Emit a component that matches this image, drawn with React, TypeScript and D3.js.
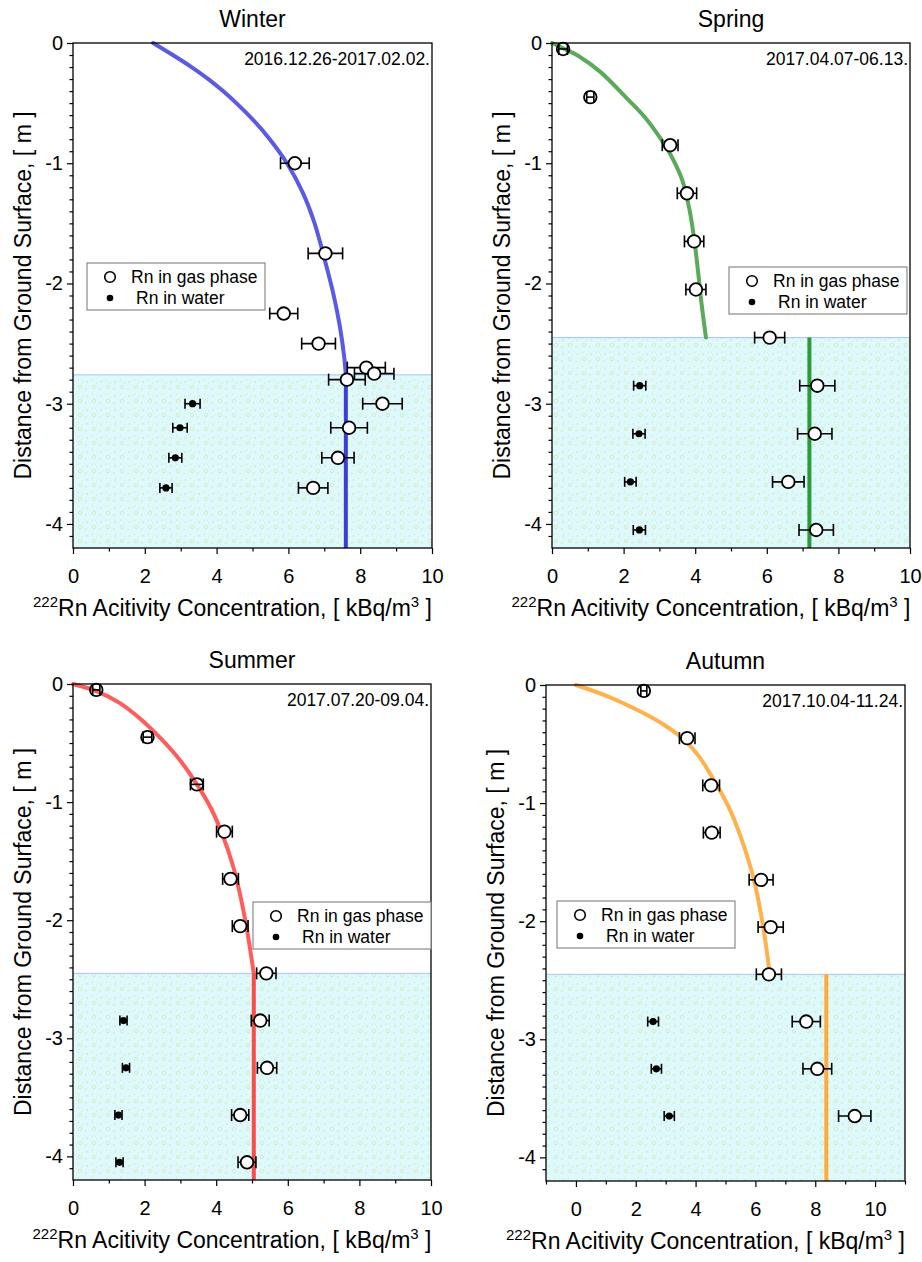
import React, { useEffect, useRef } from 'react';
import * as d3 from 'd3';

// [concentration kBq/m3, depth m, error]
type Pt = [number, number, number];

const seasons = ['Winter', 'Spring', 'Summer', 'Autumn'];
const dateRanges = ['2016.12.26-2017.02.02.', '2017.04.07-06.13.', '2017.07.20-09.04.', '2017.10.04-11.24.'];
const waterTables = [-2.76, -2.45, -2.45, -2.45];
const xDomains: [number, number][] = [[0, 10], [0, 10], [0, 10], [-1, 11]];
const yDomain: [number, number] = [-4.2, 0];
const xMajorTicks = [[0, 2, 4, 6, 8, 10], [0, 2, 4, 6, 8, 10], [0, 2, 4, 6, 8, 10], [0, 2, 4, 6, 8, 10]];
const yMajorTicks = [0, -1, -2, -3, -4];

const winterGas: Pt[] = [[6.18, -1.0, 0.4], [7.03, -1.75, 0.48], [5.87, -2.25, 0.39], [6.84, -2.5, 0.47], [8.17, -2.7, 0.53], [8.39, -2.75, 0.55], [7.63, -2.8, 0.51], [8.62, -3.0, 0.55], [7.69, -3.2, 0.51], [7.38, -3.45, 0.45], [6.69, -3.7, 0.41]];
const winterWater: Pt[] = [[3.33, -3.0, 0.21], [2.98, -3.2, 0.2], [2.85, -3.45, 0.18], [2.59, -3.7, 0.17]];
const springGas: Pt[] = [[0.31, -0.05, 0.12], [1.07, -0.45, 0.1], [3.3, -0.85, 0.22], [3.77, -1.25, 0.27], [3.97, -1.65, 0.27], [4.02, -2.05, 0.28], [6.08, -2.45, 0.42], [7.41, -2.85, 0.49], [7.34, -3.25, 0.48], [6.6, -3.65, 0.44], [7.38, -4.05, 0.48]];
const springWater: Pt[] = [[2.45, -2.85, 0.17], [2.43, -3.25, 0.17], [2.19, -3.65, 0.16], [2.44, -4.05, 0.17]];
const summerGas: Pt[] = [[0.65, -0.05, 0.1], [2.08, -0.45, 0.12], [3.46, -0.85, 0.18], [4.23, -1.25, 0.22], [4.4, -1.65, 0.22], [4.67, -2.05, 0.22], [5.4, -2.45, 0.27], [5.23, -2.85, 0.25], [5.42, -3.25, 0.27], [4.67, -3.65, 0.24], [4.86, -4.05, 0.25]];
const summerWater: Pt[] = [[1.41, -2.85, 0.1], [1.48, -3.25, 0.1], [1.27, -3.65, 0.1], [1.3, -4.05, 0.1]];
const autumnGas: Pt[] = [[2.27, -0.05, 0.1], [3.72, -0.45, 0.26], [4.52, -0.85, 0.28], [4.54, -1.25, 0.28], [6.19, -1.65, 0.4], [6.51, -2.05, 0.42], [6.45, -2.45, 0.42], [7.7, -2.85, 0.47], [8.07, -3.25, 0.48], [9.32, -3.65, 0.54]];
const autumnWater: Pt[] = [[2.58, -2.85, 0.18], [2.69, -3.25, 0.17], [3.12, -3.65, 0.17]];

// model curves in the unsaturated zone: [concentration, depth]
const winterCurve: [number, number][] = [[2.23, 0], [2.78, -0.1], [3.3, -0.2], [3.77, -0.3], [4.18, -0.4], [4.55, -0.5], [5.05, -0.65], [5.48, -0.8], [5.96, -1.0], [6.41, -1.25], [6.73, -1.5], [7.01, -1.8], [7.24, -2.07], [7.43, -2.35], [7.55, -2.6], [7.6, -2.76]];
const springCurve: [number, number][] = [[0, 0], [0.35, -0.05], [0.75, -0.11], [1.35, -0.24], [2.09, -0.46], [2.6, -0.62], [3.02, -0.79], [3.35, -0.95], [3.65, -1.15], [3.85, -1.4], [3.98, -1.65], [4.08, -1.9], [4.17, -2.15], [4.3, -2.45]];
const summerCurve: [number, number][] = [[0, 0], [0.65, -0.06], [1.3, -0.16], [1.9, -0.3], [2.45, -0.46], [2.95, -0.63], [3.46, -0.85], [3.85, -1.05], [4.18, -1.28], [4.45, -1.52], [4.68, -1.8], [4.87, -2.1], [5.0, -2.35], [5.05, -2.45]];
const autumnCurve: [number, number][] = [[0, 0], [1.0, -0.09], [2.04, -0.21], [2.9, -0.33], [3.6, -0.46], [4.1, -0.6], [4.6, -0.8], [5.1, -1.03], [5.5, -1.28], [5.95, -1.65], [6.26, -2.05], [6.48, -2.45]];
// saturated zone (constant) value
const waterLevels = [7.6, 7.19, 5.05, 8.37];

const gasSets = [winterGas, springGas, summerGas, autumnGas];
const waterSets = [winterWater, springWater, summerWater, autumnWater];
const curves = [winterCurve, springCurve, summerCurve, autumnCurve];

// layout (pixels)
const frames = [
  { left: 73, top: 43, right: 432, bottom: 548, legend: [87, 263] },
  { left: 552, top: 43, right: 910, bottom: 548, legend: [729, 267] },
  { left: 73, top: 684, right: 431, bottom: 1180, legend: [253, 902] },
  { left: 546, top: 685, right: 905, bottom: 1181, legend: [557, 901] },
];
const curveColors = ['#5a5ae6', '#5aaa5a', '#ff5c5c', '#ffb24c'];
const levelColors = ['#3d3dd8', '#2b9a3c', '#ff4a4a', '#ffaa3c'];

const FONT = 'Liberation Sans, Arial, sans-serif';

function Panel({ i }: { i: number }) {
  const f = frames[i];
  const x = d3.scaleLinear().domain(xDomains[i]).range([f.left, f.right]);
  const y = d3.scaleLinear().domain(yDomain).range([f.bottom, f.top]);
  const xRef = useRef<SVGGElement>(null);
  const yRef = useRef<SVGGElement>(null);

  useEffect(() => {
    const gx = d3.select(xRef.current);
    gx.selectAll('*').remove();
    const minorX = d3.range(Math.ceil(xDomains[i][0]), xDomains[i][1] + 0.01, 1).filter(v => !xMajorTicks[i].includes(v));
    gx.append('g').call(d3.axisBottom(x).tickValues(minorX).tickSize(3.5).tickFormat(() => '') as any);
    gx.append('g').call(d3.axisBottom(x).tickValues(xMajorTicks[i]).tickSize(6).tickPadding(15).tickFormat(d => String(d)) as any);
    gx.selectAll('.domain').remove();
    gx.selectAll('line').attr('stroke', '#000').attr('stroke-width', 1.2);
    gx.selectAll('text').attr('font-size', 20).attr('font-family', FONT).attr('fill', '#000');

    const gy = d3.select(yRef.current);
    gy.selectAll('*').remove();
    const minorY = d3.range(0, 42).map(k => -k / 10).filter(v => Math.abs(v - Math.round(v)) > 0.01);
    gy.append('g').call(d3.axisLeft(y).tickValues(minorY).tickSize(3.5).tickFormat(() => '') as any);
    gy.append('g').call(d3.axisLeft(y).tickValues(yMajorTicks).tickSize(6).tickPadding(4).tickFormat(d => String(d)) as any);
    gy.selectAll('.domain').remove();
    gy.selectAll('line').attr('stroke', '#000').attr('stroke-width', 1.2);
    gy.selectAll('text').attr('font-size', 20).attr('font-family', FONT).attr('fill', '#000');
  }, [i]);

  const line = d3.line<[number, number]>().x(d => x(d[0])).y(d => y(d[1])).curve(d3.curveCatmullRom.alpha(0.5));
  const wt = waterTables[i];
  const lvl = waterLevels[i];
  const curve = curves[i];
  const continuous = i === 0 || i === 2;
  const [lx, ly] = f.legend;
  const cx = (f.left + f.right) / 2;
  const cy = (f.top + f.bottom) / 2;

  return (
    <g>
      <rect x={f.left} y={y(wt)} width={f.right - f.left} height={f.bottom - y(wt)} fill="url(#water)" />
      <line x1={f.left} x2={f.right} y1={y(wt)} y2={y(wt)} stroke="#a9c2ff" strokeWidth={1} />
      <path d={line(curve) || ''} fill="none" stroke={curveColors[i]} strokeWidth={4} strokeLinecap="round" />
      <line x1={x(lvl)} x2={x(lvl)} y1={continuous ? y(curve[curve.length - 1][1]) : y(wt)} y2={f.bottom}
        stroke={levelColors[i]} strokeWidth={4} />
      {waterSets[i].map((d, k) => (
        <g key={'w' + k}>
          <line x1={x(d[0] - d[2])} x2={x(d[0] + d[2])} y1={y(d[1])} y2={y(d[1])} stroke="#000" strokeWidth={1.6} />
          <line x1={x(d[0] - d[2])} x2={x(d[0] - d[2])} y1={y(d[1]) - 5} y2={y(d[1]) + 5} stroke="#000" strokeWidth={1.6} />
          <line x1={x(d[0] + d[2])} x2={x(d[0] + d[2])} y1={y(d[1]) - 5} y2={y(d[1]) + 5} stroke="#000" strokeWidth={1.6} />
          <circle cx={x(d[0])} cy={y(d[1])} r={3.6} fill="#000" />
        </g>
      ))}
      {gasSets[i].map((d, k) => (
        <g key={'g' + k}>
          <line x1={x(d[0] - d[2])} x2={x(d[0] + d[2])} y1={y(d[1])} y2={y(d[1])} stroke="#000" strokeWidth={1.6} />
          <line x1={x(d[0] - d[2])} x2={x(d[0] - d[2])} y1={y(d[1]) - 6} y2={y(d[1]) + 6} stroke="#000" strokeWidth={1.6} />
          <line x1={x(d[0] + d[2])} x2={x(d[0] + d[2])} y1={y(d[1]) - 6} y2={y(d[1]) + 6} stroke="#000" strokeWidth={1.6} />
          <circle cx={x(d[0])} cy={y(d[1])} r={6.3} fill="#fff" fillOpacity={d[2] * 36 > 7 ? 1 : 0} stroke="#000" strokeWidth={1.8} />
        </g>
      ))}
      <rect x={f.left} y={f.top} width={f.right - f.left} height={f.bottom - f.top} fill="none" stroke="#000" strokeWidth={1.3} />
      <g ref={xRef} transform={`translate(0,${f.bottom})`} />
      <g ref={yRef} transform={`translate(${f.left},0)`} />

      <g fontFamily={FONT} fill="#000">
        <text x={cx} y={f.top - 16} textAnchor="middle" fontSize={23}>{seasons[i]}</text>
        <text x={f.right - 2} y={f.top + 22} textAnchor="end" fontSize={17.5}>{dateRanges[i]}</text>
        <text x={cx - 20} y={f.bottom + 68} textAnchor="middle" fontSize={23}>
          <tspan fontSize={15} dy={-9}>222</tspan>
          <tspan dy={9}>Rn Acitivity Concentration, [ kBq/m</tspan>
          <tspan fontSize={15} dy={-9}>3</tspan>
          <tspan dy={9}> ]</tspan>
        </text>
        <text transform={`translate(${f.left - 42},${cy}) rotate(-90)`} textAnchor="middle" fontSize={23}>
          Distance from Ground Surface, [ m ]
        </text>
      </g>

      <g fontFamily={FONT}>
        <rect x={lx} y={ly} width={178} height={47} fill="#fff" stroke="#8a8a8a" strokeWidth={1.2} />
        <circle cx={lx + 23} cy={ly + 14} r={5.3} fill="#fff" stroke="#000" strokeWidth={1.6} />
        <text x={lx + 44} y={ly + 20} fontSize={17.5}>Rn in gas phase</text>
        <circle cx={lx + 23} cy={ly + 35} r={3.3} fill="#000" />
        <text x={lx + 49} y={ly + 41} fontSize={17.5}>Rn in water</text>
      </g>
    </g>
  );
}

export default function App() {
  return (
    <svg width={922} height={1262} style={{ position: 'absolute', left: 0, top: 0, background: '#fff' }}>
      <defs>
        <pattern id="water" width="14" height="14" patternUnits="userSpaceOnUse">
          <rect width="14" height="14" fill="#ddf9fb" />
          <circle cx="3" cy="4" r="0.8" fill="#d6e2a0" />
          <circle cx="10" cy="9" r="1.7" fill="none" stroke="#d6e2a0" strokeWidth="0.6" />
          <circle cx="8.5" cy="2" r="0.6" fill="#d6e2a0" />
          <circle cx="2" cy="11" r="0.7" fill="#d6e2a0" />
          <circle cx="12.5" cy="5" r="0.5" fill="#d6e2a0" />
        </pattern>
      </defs>
      <rect width={922} height={1262} fill="#fff" />
      {seasons.map((s, i) => <Panel key={s} i={i} />)}
    </svg>
  );
}
